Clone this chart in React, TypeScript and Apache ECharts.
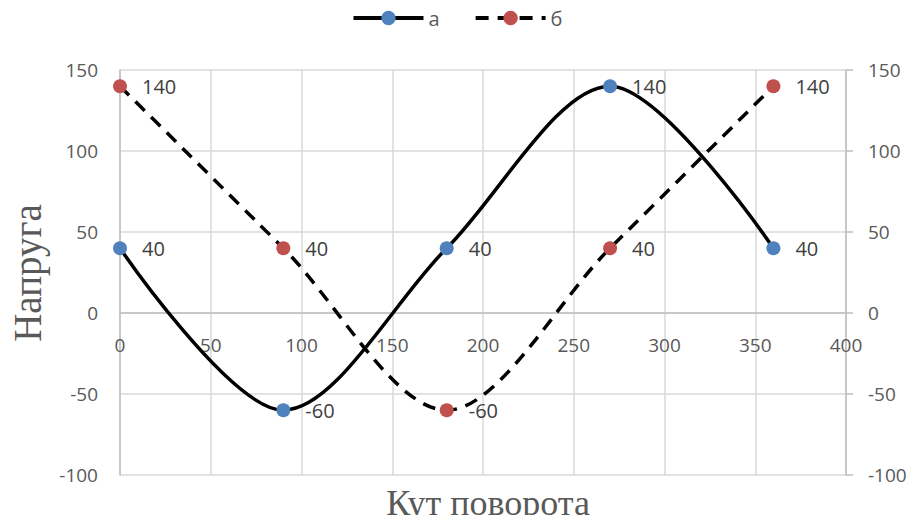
import React, { useEffect, useRef } from "react";
import * as echarts from "echarts";

const angles = [0, 90, 180, 270, 360];
const seriesA = [40, -60, 40, 140, 40];
const seriesB = [140, 40, -60, 40, 140];
const seriesNames = ["а", "б"];
const xTitle = "Кут поворота";
const yTitle = "Напруга";

export default function App() {
  const ref = useRef<HTMLDivElement>(null);
  useEffect(() => {
    if (!ref.current) return;
    const chart = echarts.init(ref.current, null, { renderer: "svg" });
    const font = "'Open Sans', 'Noto Sans', sans-serif";
    const labelCfg = {
      show: true,
      position: "right",
      distance: 15,
      color: "#404040",
      fontSize: 20,
      fontFamily: font,
    };
    const yAxisBase = {
      type: "value",
      min: -100,
      max: 150,
      interval: 50,
      axisLabel: { color: "#595959", fontSize: 19, fontFamily: font, margin: 22 },
      splitLine: { show: true, lineStyle: { color: "#d9d9d9", width: 1.5 } },
    };
    chart.setOption({
      animation: false,
      backgroundColor: "#ffffff",
      legend: {
        top: 3,
        left: "center",
        itemWidth: 70,
        itemHeight: 18,
        itemGap: 34,
        textStyle: { color: "#595959", fontSize: 20, fontFamily: font },
        data: [
          { name: seriesNames[0], lineStyle: { width: 4 } },
          { name: seriesNames[1], lineStyle: { width: 4 } },
        ],
      },
      grid: { left: 120, right: 68, top: 70, bottom: 48 },
      xAxis: {
        type: "value",
        min: 0,
        max: 400,
        interval: 50,
        position: "bottom",
        offset: -162,
        axisLine: {
          show: true,
          onZero: false,
          lineStyle: { color: "#bfbfbf", width: 1.5 },
        },
        axisTick: { show: false },
        axisLabel: { color: "#595959", fontSize: 19, fontFamily: font, margin: 22 },
        splitLine: { show: true, lineStyle: { color: "#d9d9d9", width: 1.5 } },
      },
      yAxis: [
        {
          ...yAxisBase,
          position: "left",
          axisLine: { show: true, onZero: false, lineStyle: { color: "#bfbfbf", width: 1.5 } },
          axisTick: { show: false },
        },
        {
          ...yAxisBase,
          position: "right",
          axisLine: { show: true, onZero: false, lineStyle: { color: "#bfbfbf", width: 1.5 } },
          axisTick: { show: true, length: 7, lineStyle: { color: "#bfbfbf", width: 1.5 } },
          splitLine: { show: false },
        },
      ],
      graphic: [
        {
          type: "text",
          x: 488,
          y: 503,
          style: {
            text: xTitle,
            font: "36px 'Liberation Serif', 'DejaVu Serif', serif",
            fill: "#595959",
            align: "center",
            verticalAlign: "middle",
          },
        },
        {
          type: "text",
          x: 27,
          y: 273,
          rotation: Math.PI / 2,
          style: {
            text: yTitle,
            font: "39px 'Liberation Serif', 'DejaVu Serif', serif",
            fill: "#595959",
            align: "center",
            verticalAlign: "middle",
          },
        },
      ],
      series: [
        {
          name: seriesNames[0],
          type: "line",
          smooth: 0.32,
          data: angles.map((x, i) => [x, seriesA[i]]),
          symbol: "circle",
          symbolSize: 14,
          itemStyle: { color: "#4f81bd" },
          lineStyle: { color: "#000000", width: 3.5 },
          label: labelCfg,
          z: 3,
        },
        {
          name: seriesNames[1],
          type: "line",
          smooth: 0.32,
          data: angles.map((x, i) => [x, seriesB[i]]),
          symbol: "circle",
          symbolSize: 14,
          itemStyle: { color: "#c0504d" },
          lineStyle: { color: "#000000", width: 3.5, type: [13, 9] },
          label: labelCfg,
          z: 2,
        },
      ],
    });
    return () => chart.dispose();
  }, []);
  return <div ref={ref} style={{ width: 914, height: 523, margin: -8 }} />;
}
